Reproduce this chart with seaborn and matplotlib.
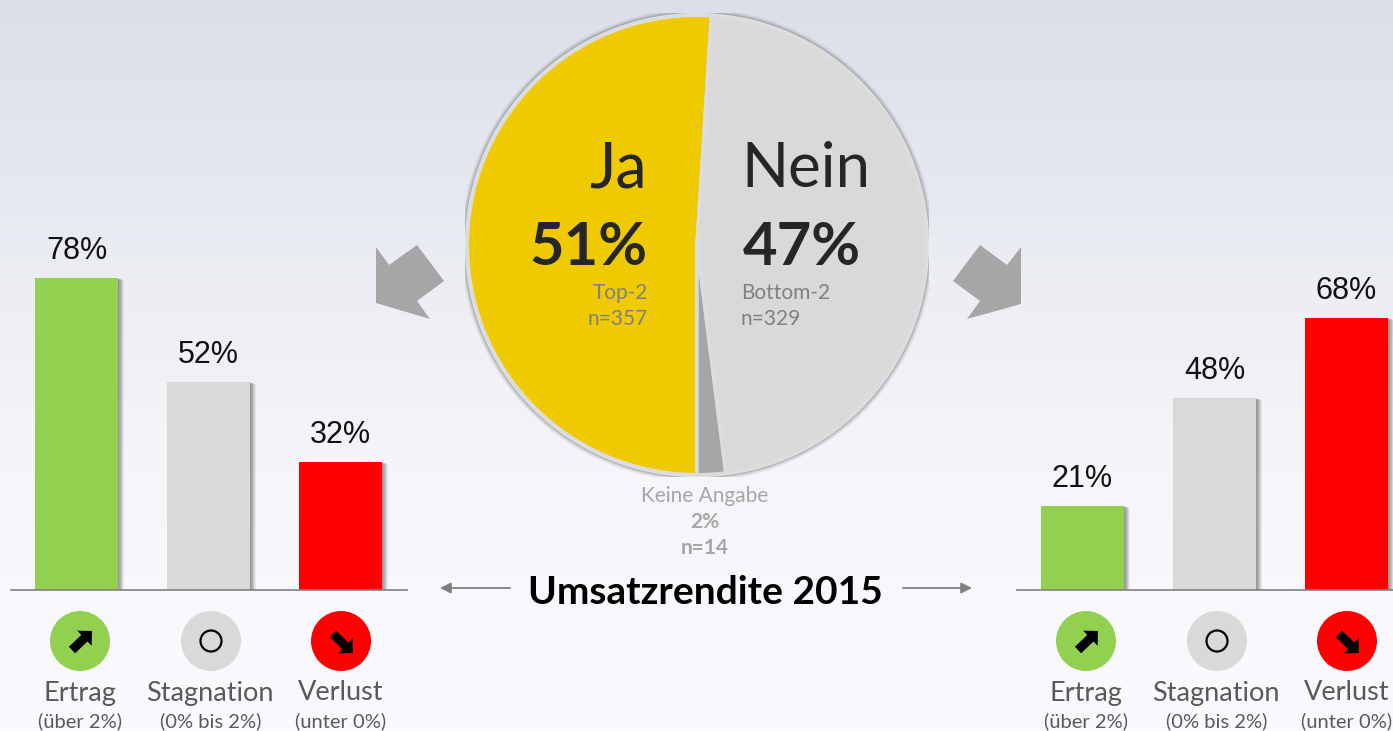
import matplotlib
matplotlib.use("Agg")
import matplotlib.pyplot as plt
import matplotlib.patheffects as pe
from matplotlib.colors import LinearSegmentedColormap
from matplotlib.patches import Circle, FancyArrow, Polygon
import numpy as np
import pandas as pd
import seaborn as sns

# data
categories = ["Ertrag", "Stagnation", "Verlust"]
sublabels = ["(über 2%)", "(0% bis 2%)", "(unter 0%)"]
left_values = [78, 52, 32]
right_values = [21, 48, 68]
bar_colors = ["#92d050", "#d9d9d9", "#ff0000"]

pie_labels = ["Ja", "Keine Angabe", "Nein"]
pie_values = [51, 2, 47]
pie_colors = ["#f0ca00", "#a6a6a6", "#d9d9d9"]

sns.set_theme(style="white")
plt.rcParams["font.family"] = ["Lato", "DejaVu Sans"]
W, H = 1393, 731


def rect(x0, y0, x1, y1):
    # pixel box (y from the top) to figure fractions
    return [x0 / W, 1 - y1 / H, (x1 - x0) / W, (y1 - y0) / H]


fig = plt.figure(figsize=(W / 100, H / 100), dpi=100)

# background
bg = fig.add_axes([0, 0, 1, 1], zorder=0)
bg_cmap = LinearSegmentedColormap.from_list(
    "bg", [(0, "#dadfe9"), (0.4, "#eceef3"), (0.65, "#f6f6fa"), (1, "#fbfbff")])
bg.imshow(np.linspace(0, 1, 256).reshape(-1, 1), cmap=bg_cmap, aspect="auto")
bg.axis("off")


def draw_bars(values, x0):
    ax = fig.add_axes(rect(x0, 250, x0 + 396, 590), zorder=1)
    df = pd.DataFrame({"cat": categories, "val": values})
    sns.barplot(data=df, x="cat", y="val", hue="cat", palette=bar_colors, saturation=1,
                width=0.63, linewidth=0, legend=False, ax=ax)
    # soft shadow on the right side of the bars
    shadow = [pe.SimplePatchShadow(offset=(d, -0.3 * d), shadow_rgbFace="#555555", alpha=0.09)
              for d in [4.2, 3.6, 3.0, 2.6, 2.2, 1.8, 1.4, 1.0, 0.6]]
    for patch in ax.patches:
        patch.set_path_effects(shadow + [pe.Normal()])
    for cont in ax.containers:
        ax.bar_label(cont, labels=[f"{v:.0f}%" for v in cont.datavalues], padding=8.5,
                     fontsize=22, family="Liberation Sans", color="#111111")
    ax.set_xlim(-0.5, 2.5)
    ax.set_ylim(0, 85)
    ax.patch.set_alpha(0)
    ax.set_xticks([])
    ax.set_yticks([])
    ax.set_xlabel("")
    ax.set_ylabel("")
    for side in ["top", "left", "right"]:
        ax.spines[side].set_visible(False)
    ax.spines["bottom"].set_color("#808080")
    ax.spines["bottom"].set_linewidth(1.2)


draw_bars(left_values, 10.5)
draw_bars(right_values, 1016.5)

# pie
pie_ax = fig.add_axes(rect(465, 13, 929, 477), zorder=2)
for r, a in [(1.018, 0.10), (1.012, 0.15), (1.006, 0.25)]:
    pie_ax.add_patch(Circle((0, 0), r, color="#666666", alpha=a, lw=0))
pie_ax.add_patch(Circle((0, 0), 1.0, color="#e6e8ee", lw=0))
pie_ax.pie(pie_values, colors=pie_colors, startangle=86.4, radius=0.99,
           wedgeprops=dict(edgecolor="#dcdcdc", linewidth=2.5))
pie_ax.set_xlim(-1, 1)
pie_ax.set_ylim(-1, 1)
pie_ax.patch.set_alpha(0)

# everything else in pixel coordinates
ov = fig.add_axes([0, 0, 1, 1], zorder=3)
ov.set_xlim(0, W)
ov.set_ylim(H, 0)
ov.axis("off")
ov.patch.set_alpha(0)

DARK = "#262626"
ov.text(647, 187, "Ja", ha="right", va="baseline", fontsize=45, color=DARK)
ov.text(741, 187, "Nein", ha="left", va="baseline", fontsize=44.5, color=DARK)
ov.text(648, 265, "51%", ha="right", va="baseline", fontsize=43, weight="bold", color=DARK)
ov.text(743, 265, "47%", ha="left", va="baseline", fontsize=43, weight="bold", color=DARK)
ov.text(648, 293, "Top-2", ha="right", va="center", fontsize=15, color="#808080")
ov.text(648, 319, "n=357", ha="right", va="center", fontsize=15, color="#808080")
ov.text(741, 293, "Bottom-2", ha="left", va="center", fontsize=15, color="#808080")
ov.text(741, 319, "n=329", ha="left", va="center", fontsize=15, color="#808080")
ov.text(705, 496, "Keine Angabe", ha="center", va="center", fontsize=15, color="#a6a6a6")
ov.text(705, 522, "2%", ha="center", va="center", fontsize=15, weight="bold", color="#a6a6a6")
ov.text(705, 548, "n=14", ha="center", va="center", fontsize=15, weight="bold", color="#a6a6a6")
ov.text(705, 592, "Umsatzrendite 2015", ha="center", va="center", fontsize=28, weight="bold", color="black")

# big arrows next to the pie
ov.add_patch(Polygon([(376, 247), (389, 265), (417, 245), (444, 281), (417, 301), (430, 319), (376, 303)],
                     color="#a6a6a6", lw=0))
ov.add_patch(Polygon([(980, 245), (1007, 265), (1021, 247), (1021, 304), (967, 319), (980, 301), (953, 281)],
                     color="#a6a6a6", lw=0))

# thin arrows next to the title
for x_start, x_end in [(510, 440), (903, 972)]:
    ov.annotate("", xy=(x_end, 588), xytext=(x_start, 588),
                arrowprops=dict(arrowstyle="-|>", color="#808080", lw=1.3, mutation_scale=16,
                                shrinkA=0, shrinkB=0))

# legend icons under each bar group
for off in [0, 1006]:
    for cx, color, cat, sub in zip([80, 211, 341], bar_colors, categories, sublabels):
        ov.add_patch(Circle((cx + off, 641), 30, color=color, lw=0))
        ov.text(cx + off - (1 if cat == "Stagnation" else 0), 693, cat, ha="center", va="center",
                fontsize=19.5, color="#595959")
        ov.text(cx + off, 721, sub, ha="center", va="center", fontsize=14.5, color="#595959")
    ov.add_patch(FancyArrow(72 + off, 650, 20, -19, width=9, head_width=21, head_length=10.5,
                            length_includes_head=True, color="black", lw=0))
    ov.add_patch(Circle((211 + off, 641), 10.5, fill=False, edgecolor="black", lw=1.6))
    ov.add_patch(FancyArrow(333 + off, 634, 20, 19, width=9, head_width=21, head_length=10.5,
                            length_includes_head=True, color="black", lw=0))

fig.savefig("out.png", dpi=100)
